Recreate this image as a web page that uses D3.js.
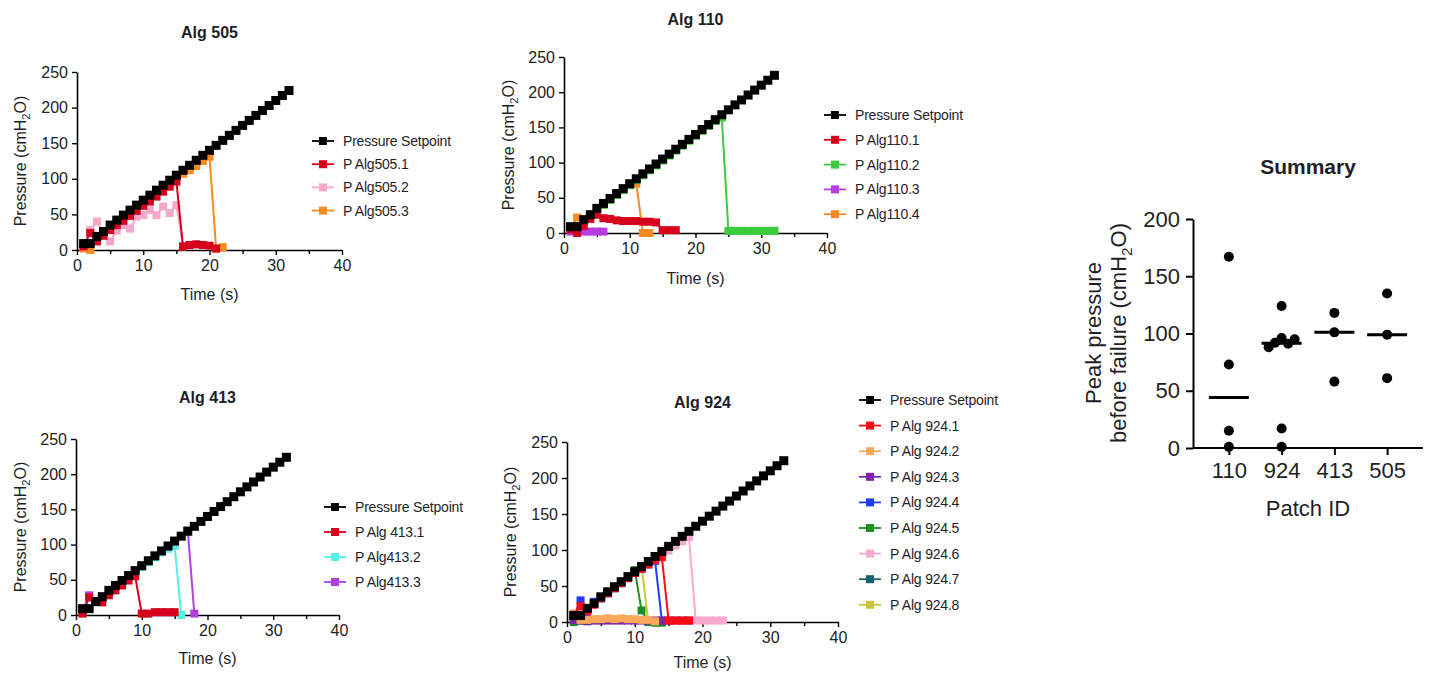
<!DOCTYPE html>
<html>
<head>
<meta charset="utf-8">
<script src="https://cdn.jsdelivr.net/npm/d3@7"></script>
<style>
  html, body { margin: 0; padding: 0; background: #fff; }
  svg { display: block; font-family: "Liberation Sans", Arial, sans-serif; }
  .tick text { fill: #222; }
</style>
</head>
<body>
<svg id="chart" width="1431" height="677"></svg>
<script>
// ---- Data ---------------------------------------------------------------
// Sample times (s) and the ramped pressure setpoint (cmH2O)
const seconds = [1,2,3,4,5,6,7,8,9,10,11,12,13,14,15,16,17,18,19,20,21,22,23,24,25,26,27,28,29,30,31,32];
const setpoint = [9,9,19,26,35,42,49,56,63,70,77,84,91,98,105,112,119,126,133,140,147,154,161,168,175,182,189,196,203,210,217,224];

// Measured pressure per patch, one value per second starting at t = 1 s
const alg505Names = ["P Alg505.1", "P Alg505.2", "P Alg505.3"];
const alg505Colors = ["#d6001c", "#f5a8c9", "#f78a22"];
const alg505_1 = [5,24,12,20,28,35,41,48,55,62,68,75,82,89,96,5,7,8,7,6,2];
const alg505_2 = [5,28,40,23,12,27,35,30,47,49,56,49,61,52,63,5];
const alg505_3 = [2,0,17,24,31,38,45,52,59,66,73,80,87,94,101,107,112,118,125,131,2,4];

const alg110Names = ["P Alg110.1", "P Alg110.2", "P Alg110.3", "P Alg110.4"];
const alg110Colors = ["#d6001c", "#3ccb3c", "#b63de0", "#f78a22"];
const alg110_1 = [5,0,10,20,26,21,20,18,17,17,17,16,16,15,4,4,4];
const alg110_2 = [8,8,18,25,33,40,47,54,61,68,75,82,89,96,103,110,117,124,131,138,145,152,159,164,3,3,3,3,3,3,3,3];
const alg110_3 = [2,2,2,2,2,2];
const alg110_4 = [5,22,18,25,33,40,47,54,61,68,70,0,0];

const alg413Names = ["P Alg 413.1", "P Alg413.2", "P Alg413.3"];
const alg413Colors = ["#d6001c", "#55f0e6", "#b03fe0"];
const alg413_1 = [2,25,20,18,28,35,42,49,55,2,2,4,4,4,4];
const alg413_2 = [8,9,19,26,35,42,49,56,63,68,75,82,89,94,98,0];
const alg413_3 = [5,28,19,26,35,42,49,56,63,70,77,84,91,98,105,112,120,2];

const alg924Names = ["P Alg 924.1", "P Alg 924.2", "P Alg 924.3", "P Alg 924.4",
                     "P Alg 924.5", "P Alg 924.6", "P Alg 924.7", "P Alg 924.8"];
const alg924Colors = ["#ff0a14", "#f9a85c", "#7e22a8", "#1f3cff",
                      "#1f8f1f", "#f7a8cc", "#176470", "#c8c832"];
const alg924_1 = [10,22,15,24,33,40,47,54,61,68,74,80,86,90,2,2,2,2];
const alg924_2 = [12,3,3,4,4,5,4,5,4,4,3,3,1];
const alg924_3 = [3,2,2,2,2,2,2,2,2,2,2,2,2,2,2,2,2,2];
const alg924_4 = [8,30,12,28,33,40,47,54,61,68,74,80,85,2];
const alg924_5 = [0,10,18,25,33,40,47,54,61,72,16,0,-1,-1];
const alg924_6 = [5,12,18,25,33,40,47,54,61,68,74,80,86,92,99,106,112,118,2,2,2,2,2];
const alg924_7 = [4,2,1];
const alg924_8 = [6,12,18,25,33,40,47,54,61,68,78,0];

// Summary: peak pressure before failure per patch (cmH2O)
const patchIds = ["110", "924", "413", "505"];
const peak110 = [167, 73, 15, 1];
const peak924 = [124, 96, 95, 92, 91, 88, 17, 1];
const peak413 = [118, 101, 58];
const peak505 = [135, 99, 61];

const timeTicks = [0,5,10,15,20,25,30,35,40];
const pressureTicks = [0,50,100,150,200,250];
const summaryTicks = [0,50,100,150,200];

// ---- Layout ---------------------------------------------------------------
const svg = d3.select("#chart");
const FONT = "'Liberation Sans', Arial, sans-serif";
const TEXT = "#1e1e28";

const panels = [
  { title: "Alg 505", names: alg505Names, colors: alg505Colors,
    values: [alg505_1, alg505_2, alg505_3],
    x0: 77, x1: 342, y0: 250, y1: 72, titleY: 38, yLabelX: 26, xLabelY: 300,
    legX: 312, legY: 141, legStep: 23.2 },
  { title: "Alg 110", names: alg110Names, colors: alg110Colors,
    values: [alg110_1, alg110_2, alg110_3, alg110_4],
    x0: 564, x1: 827, y0: 233, y1: 57, titleY: 25, yLabelX: 514, xLabelY: 284,
    legX: 824, legY: 115, legStep: 24.8 },
  { title: "Alg 413", names: alg413Names, colors: alg413Colors,
    values: [alg413_1, alg413_2, alg413_3],
    x0: 76, x1: 339, y0: 615, y1: 439, titleY: 403, yLabelX: 26, xLabelY: 664,
    legX: 324, legY: 507, legStep: 25 },
  { title: "Alg 924", names: alg924Names, colors: alg924Colors,
    values: [alg924_1, alg924_2, alg924_3, alg924_4, alg924_5, alg924_6, alg924_7, alg924_8],
    x0: 567, x1: 838, y0: 622, y1: 442, titleY: 408, yLabelX: 516, xLabelY: 668,
    legX: 859, legY: 400, legStep: 25.6 }
];

// Rotated "Pressure (cmH2O)" axis title with a subscript 2
function pressureLabel(g, x, y, size, prefix) {
  const t = g.append("text")
    .attr("transform", `translate(${x},${y}) rotate(-90)`)
    .attr("text-anchor", "middle")
    .attr("font-family", FONT).attr("font-size", size).attr("fill", TEXT);
  t.append("tspan").text(prefix + "(cmH");
  t.append("tspan").attr("font-size", size * 0.7).attr("dy", size * 0.25).text("2");
  t.append("tspan").attr("dy", -size * 0.25).text("O)");
  return t;
}

function square(sel, cx, cy, size, color) {
  sel.append("rect")
    .attr("x", cx - size / 2).attr("y", cy - size / 2)
    .attr("width", size).attr("height", size)
    .attr("fill", color);
}

panels.forEach(p => {
  const g = svg.append("g");
  const x = d3.scaleLinear().domain([0, 40]).range([p.x0, p.x1]);
  const y = d3.scaleLinear().domain([0, 250]).range([p.y0, p.y1]);

  // Title
  g.append("text").attr("x", (p.x0 + p.x1) / 2).attr("y", p.titleY)
    .attr("text-anchor", "middle").attr("font-family", FONT)
    .attr("font-size", 16).attr("font-weight", "bold").attr("fill", TEXT)
    .text(p.title);

  // Axes
  const xAxis = g.append("g").attr("transform", `translate(0,${p.y0})`)
    .call(d3.axisBottom(x).tickValues(timeTicks).tickSize(5).tickSizeOuter(0)
      .tickFormat(d => d % 10 === 0 ? d : ""));
  xAxis.selectAll(".tick line").attr("y2", d => d % 10 === 0 ? 5 : 4);
  const yAxis = g.append("g").attr("transform", `translate(${p.x0},0)`)
    .call(d3.axisLeft(y).tickValues(pressureTicks).tickSize(5).tickSizeOuter(0));
  [xAxis, yAxis].forEach(a => {
    a.select(".domain").attr("stroke", "#000").attr("stroke-width", 1.6);
    a.selectAll(".tick line").attr("stroke", "#000").attr("stroke-width", 1.4);
    a.selectAll(".tick text").attr("font-family", FONT).attr("font-size", 16).attr("fill", TEXT);
  });
  xAxis.selectAll(".tick text").attr("dy", "0.8em");
  yAxis.selectAll(".tick text").attr("dx", "-1px");

  // Axis titles
  g.append("text").attr("x", (p.x0 + p.x1) / 2).attr("y", p.xLabelY)
    .attr("text-anchor", "middle").attr("font-family", FONT)
    .attr("font-size", 16).attr("fill", TEXT).text("Time (s)");
  pressureLabel(g, p.yLabelX, (p.y0 + p.y1) / 2, 16, "Pressure ");

  const line = d3.line().x(d => x(d[0])).y(d => y(d[1]));

  // Patch traces, drawn last-to-first so earlier patches sit on top
  for (let i = p.values.length - 1; i >= 0; i--) {
    const pts = p.values[i].map((v, k) => [seconds[k], v]);
    const s = g.append("g");
    s.append("path").datum(pts).attr("d", line)
      .attr("fill", "none").attr("stroke", p.colors[i]).attr("stroke-width", 2);
    pts.forEach(d => square(s, x(d[0]), y(d[1]), 8, p.colors[i]));
  }

  // Pressure setpoint on top
  const sp = seconds.map((t, k) => [t, setpoint[k]]);
  const sg = g.append("g");
  sg.append("path").datum(sp).attr("d", line)
    .attr("fill", "none").attr("stroke", "#000").attr("stroke-width", 2);
  sp.forEach(d => square(sg, x(d[0]), y(d[1]), 9, "#000"));

  // Legend
  const names = ["Pressure Setpoint"].concat(p.names);
  const colors = ["#000"].concat(p.colors);
  names.forEach((n, i) => {
    const ly = p.legY + i * p.legStep;
    g.append("line").attr("x1", p.legX).attr("x2", p.legX + 22)
      .attr("y1", ly).attr("y2", ly).attr("stroke", colors[i]).attr("stroke-width", 1.8);
    square(g, p.legX + 11, ly, 8, colors[i]);
    g.append("text").attr("x", p.legX + 31).attr("y", ly).attr("dy", "0.36em")
      .attr("font-family", FONT).attr("font-size", 14).attr("fill", TEXT)
      .attr("letter-spacing", "-0.2px").text(n);
  });
});

// ---- Summary scatter ------------------------------------------------------
const sumG = svg.append("g");
const sx = d3.scalePoint().domain(patchIds).range([1193, 1423]).padding(0.68);
const sy = d3.scaleLinear().domain([0, 200]).range([448, 219]);
const peaks = [peak110, peak924, peak413, peak505];

sumG.append("text").attr("x", 1308).attr("y", 174).attr("text-anchor", "middle")
  .attr("font-family", FONT).attr("font-size", 21).attr("font-weight", "bold")
  .attr("fill", TEXT).text("Summary");

const sxAxis = sumG.append("g").attr("transform", "translate(0,448)")
  .call(d3.axisBottom(sx).tickSize(7).tickSizeOuter(0));
sxAxis.select(".domain").attr("d", "M1193,0H1423");
const syAxis = sumG.append("g").attr("transform", "translate(1193,0)")
  .call(d3.axisLeft(sy).tickValues(summaryTicks).tickSize(7).tickSizeOuter(0));
[sxAxis, syAxis].forEach(a => {
  a.select(".domain").attr("stroke", "#000").attr("stroke-width", 2);
  a.selectAll(".tick line").attr("stroke", "#000").attr("stroke-width", 2);
  a.selectAll(".tick text").attr("font-family", FONT).attr("font-size", 22).attr("fill", TEXT);
});
sxAxis.selectAll(".tick text").attr("dy", "0.9em");
syAxis.selectAll(".tick text").attr("dx", "-3px");

sumG.append("text").attr("x", 1308).attr("y", 516).attr("text-anchor", "middle")
  .attr("font-family", FONT).attr("font-size", 22).attr("fill", TEXT).text("Patch ID");
sumG.append("text").attr("transform", "translate(1101,333) rotate(-90)")
  .attr("text-anchor", "middle").attr("font-family", FONT).attr("font-size", 22)
  .attr("fill", TEXT).text("Peak pressure");
pressureLabel(sumG, 1126, 333, 22, "before failure ");

// Points spread sideways where they would overlap, plus a median bar
const R = 5;
patchIds.forEach((id, gi) => {
  const cx = sx(id);
  const placed = [];
  peaks[gi].slice().sort((a, b) => b - a).forEach(v => {
    const py = sy(v);
    let off = 0;
    for (let k = 0; k < 20; k++) {
      const cand = k === 0 ? 0 : (k % 2 ? 1 : -1) * Math.ceil(k / 2) * 6.5;
      const ok = placed.every(q => Math.hypot(q[0] - (cx + cand), q[1] - py) >= 7.5);
      if (ok) { off = cand; break; }
    }
    placed.push([cx + off, py]);
  });
  placed.forEach(q => sumG.append("circle").attr("cx", q[0]).attr("cy", q[1])
    .attr("r", R).attr("fill", "#000"));
  const med = d3.median(peaks[gi]);
  sumG.append("line").attr("x1", cx - 20).attr("x2", cx + 20)
    .attr("y1", sy(med)).attr("y2", sy(med))
    .attr("stroke", "#000").attr("stroke-width", 3);
});
</script>
</body>
</html>
